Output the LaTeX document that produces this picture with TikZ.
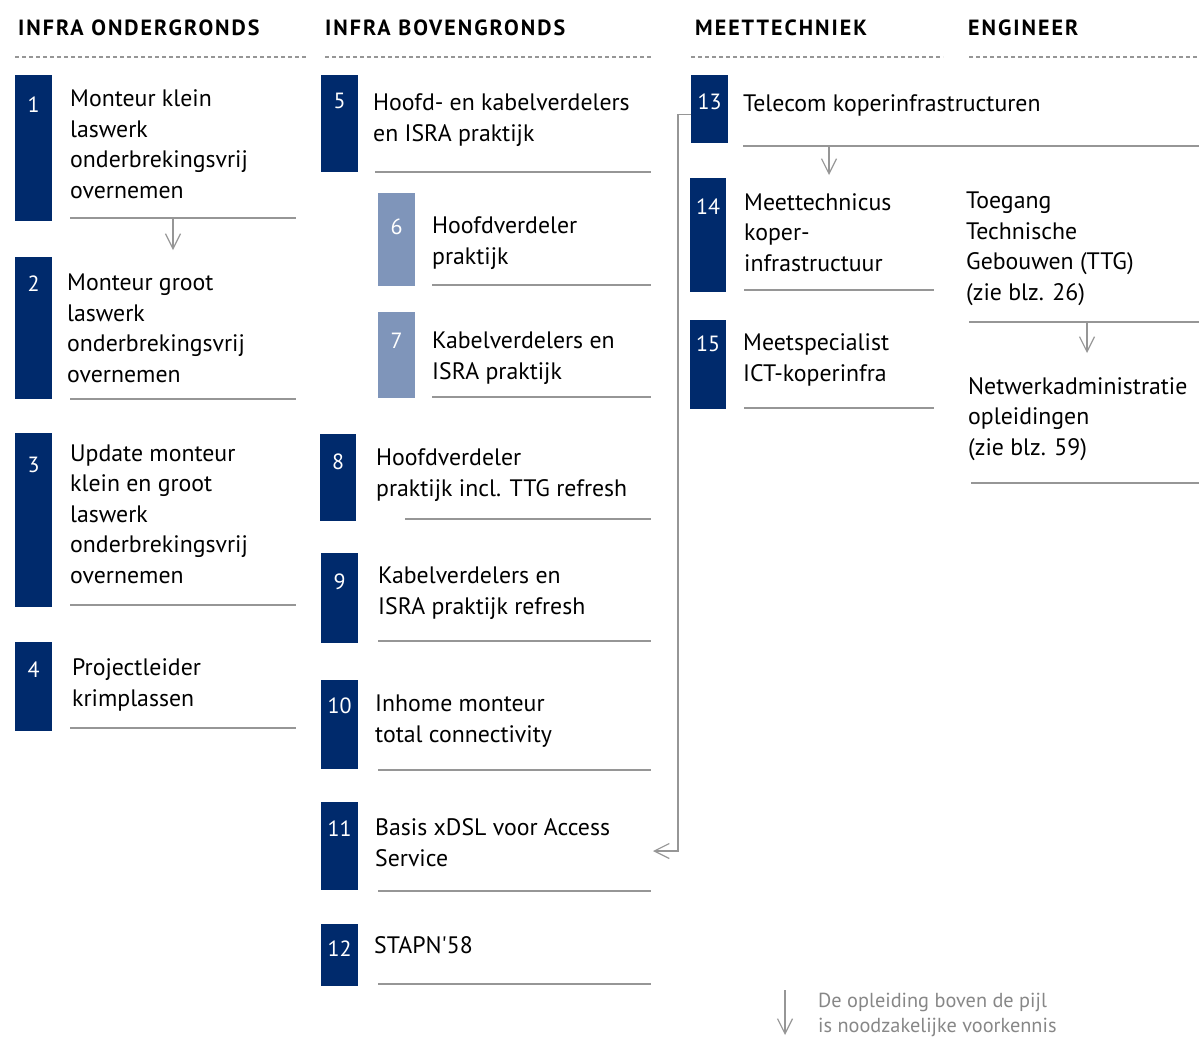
\documentclass[tikz,border=0pt]{standalone}
\usepackage{fontspec}
\setmainfont{PT Sans}
\newfontfamily\kopfont[LetterSpace=9]{PT Sans}
\usetikzlibrary{arrows.meta}

\definecolor{donker}{RGB}{0,42,108}
\definecolor{licht}{RGB}{127,149,186}
\definecolor{lijn}{RGB}{150,150,150}
\definecolor{uitleg}{RGB}{135,135,135}

% tekst nodes staan op de basislijn van hun laatste regel
\tikzset{
  kop/.style={anchor=base west,inner sep=0,font=\kopfont\bfseries\fontsize{22}{25}\selectfont},
  stippel/.style={draw=lijn,line width=2pt,dash pattern=on 4pt off 3pt},
  blok/.style={fill=donker,anchor=north west,minimum width=37pt,inner sep=0},
  lichtblok/.style={blok,fill=licht},
  nummer/.style={text=white,anchor=base,inner sep=0,font=\fontsize{22}{25}\selectfont},
  tekst/.style={anchor=base west,inner sep=0,align=left,font=\fontsize{23.8}{30.5}\selectfont},
  streep/.style={draw=lijn,line width=1.3pt},
  pijl/.style={draw=lijn,line width=1.2pt,-{Straight Barb[length=15pt,width=15pt,line width=1.2pt]}}
}

\begin{document}
\begin{tikzpicture}[x=1pt,y=-1pt]
\useasboundingbox (0,0) rectangle (1199,1037);
%
\draw (18,35) node[kop] (kop1) {INFRA ONDERGRONDS};
\draw (325,35) node[kop] (kop2) {INFRA BOVENGRONDS};
\draw (695,35) node[kop] (kop3) {MEETTECHNIEK};
\draw (968,35) node[kop] (kop4) {ENGINEER};
\draw[stippel] (15,57) -- (306,57);
\draw[stippel] (325,57) -- (652,57);
\draw[stippel] (691,57) -- (943,57);
\draw[stippel] (969,57) -- (1199,57);
%
% infra ondergronds
\node[blok,minimum height=146pt] (blok1) at (15,75) {};
\draw (33.5,112) node[nummer] (nr1) {1};
\draw (70,198) node[tekst] (opl1) {Monteur klein\\laswerk\\onderbrekingsvrij\\overnemen};
\draw[streep] (70,218) -- (296,218);
\coordinate (onder1) at (173,218);
\coordinate (boven2) at (173,250);
\path[pijl] (onder1) -- (boven2);
%
\node[blok,minimum height=142pt] (blok2) at (15,257) {};
\draw (33.5,291) node[nummer] (nr2) {2};
\draw (67,382) node[tekst] (opl2) {Monteur groot\\laswerk\\onderbrekingsvrij\\overnemen};
\draw[streep] (70,399) -- (296,399);
%
\node[blok,minimum height=174pt] (blok3) at (15,433) {};
\draw (33.5,472) node[nummer] (nr3) {3};
\draw (70,583) node[tekst] (opl3) {Update monteur\\klein en groot\\laswerk\\onderbrekingsvrij\\overnemen};
\draw[streep] (70,605) -- (296,605);
%
\node[blok,minimum height=89pt] (blok4) at (15,642) {};
\draw (33.5,677) node[nummer] (nr4) {4};
\draw (72,706) node[tekst] (opl4) {Projectleider\\krimplassen};
\draw[streep] (70,728) -- (296,728);
%
% infra bovengronds
\node[blok,minimum height=97pt] (blok5) at (321,75) {};
\draw (339.5,108) node[nummer] (nr5) {5};
\draw (373,141) node[tekst] (opl5) {Hoofd- en kabelverdelers\\en ISRA praktijk};
\draw[streep] (375,172) -- (651,172);
%
\node[lichtblok,minimum height=93pt] (blok6) at (378,193) {};
\draw (396.5,234) node[nummer] (nr6) {6};
\draw (432,264) node[tekst] (opl6) {Hoofdverdeler\\praktijk};
\draw[streep] (432,285) -- (651,285);
%
\node[lichtblok,minimum height=86pt] (blok7) at (378,312) {};
\draw (396.5,348) node[nummer] (nr7) {7};
\draw (432,379) node[tekst] (opl7) {Kabelverdelers en\\ISRA praktijk};
\draw[streep] (432,397) -- (651,397);
%
\node[blok,minimum width=36pt,minimum height=87pt] (blok8) at (320,434) {};
\draw (338,469) node[nummer] (nr8) {8};
\draw (376,496) node[tekst] (opl8) {Hoofdverdeler\\praktijk incl. TTG refresh};
\draw[streep] (405,519) -- (651,519);
%
\node[blok,minimum height=90pt] (blok9) at (321,553) {};
\draw (339.5,589) node[nummer] (nr9) {9};
\draw (378,614) node[tekst] (opl9) {Kabelverdelers en\\ISRA praktijk refresh};
\draw[streep] (378,641) -- (651,641);
%
\node[blok,minimum height=89pt] (blok10) at (321,680) {};
\draw (339.5,713) node[nummer] (nr10) {10};
\draw (375,742) node[tekst] (opl10) {Inhome monteur\\total connectivity};
\draw[streep] (378,770) -- (651,770);
%
\node[blok,minimum height=88pt] (blok11) at (321,802) {};
\draw (339.5,836) node[nummer] (nr11) {11};
\draw (375,866) node[tekst] (opl11) {Basis xDSL voor Access\\Service};
\draw[streep] (378,891) -- (651,891);
%
\node[blok,minimum height=62pt] (blok12) at (321,924) {};
\draw (339.5,956) node[nummer] (nr12) {12};
\draw (374,953) node[tekst] (opl12) {STAPN\textquotesingle 58};
\draw[streep] (378,984) -- (651,984);
%
% meettechniek
\node[blok,minimum height=68pt] (blok13) at (691,75) {};
\draw (709.5,109) node[nummer] (nr13) {13};
\draw (743,111) node[tekst] (opl13) {Telecom koperinfrastructuren};
\draw[streep] (743,146) -- (1199,146);
\coordinate (onder13) at (829,146);
\coordinate (boven14) at (829,175);
\path[pijl] (onder13) -- (boven14);
\coordinate (naar11) at (653,851);
\path[pijl] ([yshift=-5pt]blok13.west) -- ++(-13,0) |- (naar11);
%
\node[blok,minimum width=36pt,minimum height=114pt] (blok14) at (690,178) {};
\draw (708,214) node[nummer] (nr14) {14};
\draw (744,271) node[tekst] (opl14) {Meettechnicus\\koper-\\infrastructuur};
\draw[streep] (744,290) -- (934,290);
%
\node[blok,minimum width=36pt,minimum height=89pt] (blok15) at (690,320) {};
\draw (708,351) node[nummer] (nr15) {15};
\draw (743,381) node[tekst] (opl15) {Meetspecialist\\ICT-koperinfra};
\draw[streep] (744,408) -- (934,408);
%
% engineer
\draw (966,300) node[tekst] (ttg) {Toegang\\Technische\\Gebouwen (TTG)\\(zie blz. 26)};
\draw[streep] (969,322) -- (1199,322);
\coordinate (onderttg) at (1087,322);
\coordinate (bovennet) at (1087,353);
\path[pijl] (onderttg) -- (bovennet);
\draw (968,455) node[tekst] (netwerk) {Netwerkadministratie\\opleidingen\\(zie blz. 59)};
\draw[streep] (971,483) -- (1199,483);
%
% uitleg pijl
\coordinate (uitlegboven) at (785,990);
\coordinate (uitlegonder) at (785,1035);
\path[pijl] (uitlegboven) -- (uitlegonder);
\draw (818,1032) node[tekst,text=uitleg,font=\fontsize{20.3}{25}\selectfont] (uitleg)
  {De opleiding boven de pijl\\is noodzakelijke voorkennis};
\end{tikzpicture}
\end{document}
